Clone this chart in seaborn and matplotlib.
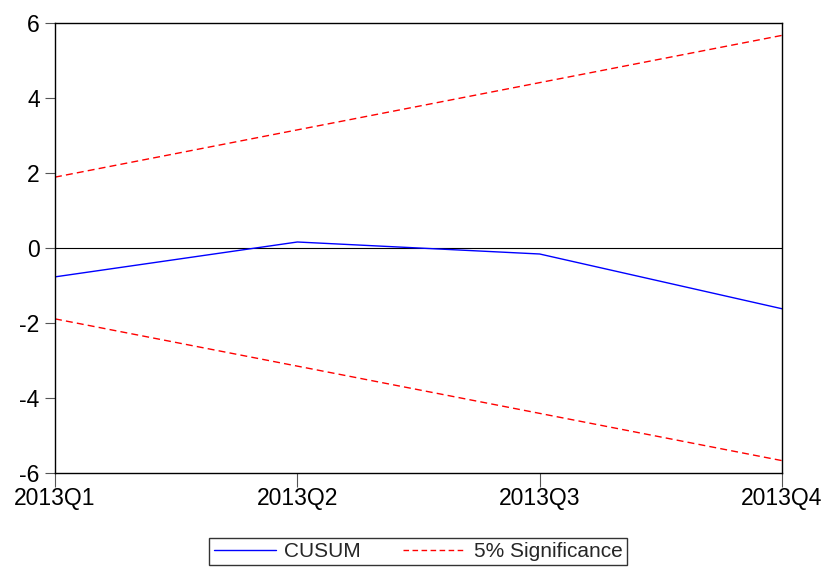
import matplotlib
matplotlib.use("Agg")
import matplotlib.pyplot as plt
import seaborn as sns
import pandas as pd

# CUSUM test results with 5% significance bounds
quarters = ["2013Q1", "2013Q2", "2013Q3", "2013Q4"]
cusum = [-0.77, 0.16, -0.16, -1.62]
upper_bound = [1.89, 3.15, 4.41, 5.67]
lower_bound = [-1.89, -3.15, -4.41, -5.67]
y_ticks = [-6, -4, -2, 0, 2, 4, 6]

sns.set_theme(style="white")
plt.rcParams["font.family"] = ["Liberation Sans", "DejaVu Sans"]

pos = list(range(len(quarters)))
df = pd.DataFrame({
    "pos": pos * 3,
    "value": cusum + upper_bound + lower_bound,
    "series": ["CUSUM"] * 4 + ["upper"] * 4 + ["lower"] * 4,
})

fig = plt.figure(figsize=(8.3, 5.67), dpi=100)
ax = fig.add_axes([55 / 830, (567 - 473) / 567, 727 / 830, 450 / 567])

ax.axhline(0, color="black", lw=0.8, zorder=1)
sns.lineplot(data=df[df.series == "CUSUM"], x="pos", y="value", ax=ax,
             color="#0000ff", lw=1.0, legend=False)
sns.lineplot(data=df[df.series == "upper"], x="pos", y="value", ax=ax,
             color="#ff0000", lw=1.0, legend=False)
ax.lines[-1].set_dashes([5, 3])
sns.lineplot(data=df[df.series == "lower"], x="pos", y="value", ax=ax,
             color="#ff0000", lw=1.0, legend=False)
ax.lines[-1].set_dashes([5, 3])

ax.set_xlim(0, len(quarters) - 1)
ax.set_ylim(-6, 6)
ax.set_xticks(pos)
ax.set_xticklabels(quarters)
ax.set_yticks(y_ticks)
ax.set_yticklabels([str(t) for t in y_ticks])
ax.set_xlabel("")
ax.set_ylabel("")

for s in ax.spines.values():
    s.set_visible(True)
    s.set_color("black")
    s.set_linewidth(1.0)

ax.tick_params(axis="y", which="both", left=True, length=7, width=0.8,
               color="#555555", labelsize=16.5, pad=4, labelcolor="black")
ax.tick_params(axis="x", which="both", bottom=True, length=10, width=0.8,
               color="#555555", labelsize=16.5, pad=0, labelcolor="black")

handles = [
    plt.Line2D([], [], color="#0000ff", lw=1.0),
    plt.Line2D([], [], color="#ff0000", lw=1.0, dashes=[4, 2.5]),
]
leg = fig.legend(handles, ["CUSUM", "5% Significance"], loc="upper center",
                 bbox_to_anchor=(418 / 830, (567 - 538) / 567), ncol=2,
                 frameon=True, fancybox=False, fontsize=15,
                 handlelength=3.0, handletextpad=0.4, columnspacing=2.0,
                 borderpad=0.2, borderaxespad=0)
leg.get_frame().set_edgecolor("black")
leg.get_frame().set_linewidth(1.0)

fig.savefig("out.png", dpi=100)
